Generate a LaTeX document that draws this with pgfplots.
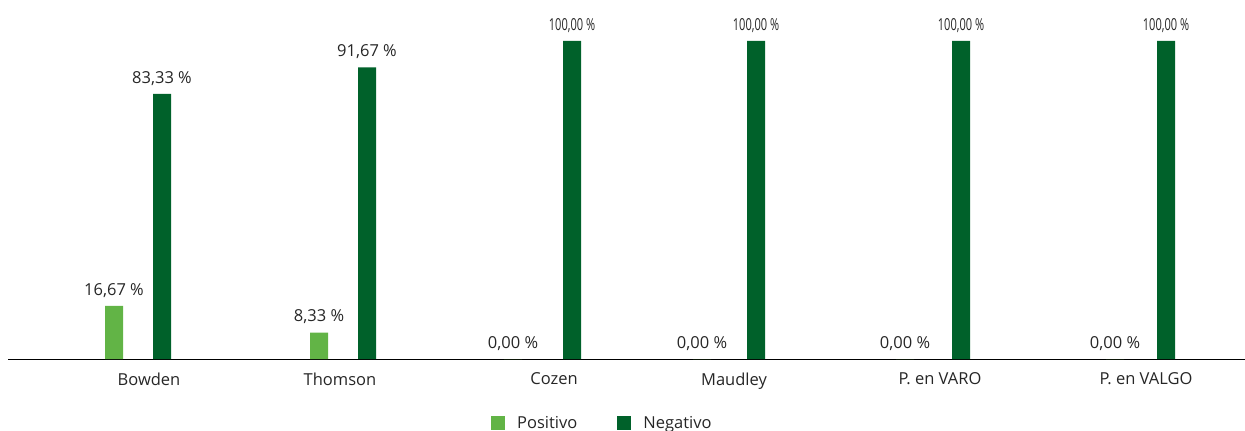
\documentclass[border=0pt]{standalone}
\usepackage{fontspec}
\setmainfont{Open Sans}
\usepackage{pgfplots}
\pgfplotsset{compat=1.18}
\definecolor{pos}{HTML}{62B446}
\definecolor{neg}{HTML}{00612A}
\definecolor{txt}{HTML}{262626}
\begin{document}
\fontsize{16.5}{19}\selectfont
\begin{tikzpicture}
\begin{axis}[
  at={(0,0)}, anchor=south west,
  scale only axis, width=1245pt, height=431pt,
  xmin=0, xmax=1245, ymin=-22.64, ymax=112.89,
  axis x line=middle, axis y line=none,
  x axis line style={-, black, line width=1pt, shorten <=8pt},
  xtick={149,340,554,734,940,1146},
  xticklabels={Bowden,Thomson,Cozen,Maudley,P. en VARO,P. en VALGO},
  major tick length=0pt, xtick style={draw=none},
  xticklabel style={yshift=-8pt, font=\fontsize{16.5}{19}\selectfont, text=txt},
  ytick=\empty,
  ybar, bar width=18pt, bar shift=0pt,
  nodes near coords, point meta=explicit symbolic,
  every node near coord/.append style={font=\fontsize{16.5}{19}\selectfont, text=txt, yshift=3pt},
  clip=false,
  legend columns=2,
  legend style={draw=none, fill=none, at={(axis description cs:0.3944,0.0348)}, anchor=north west,
    inner sep=0pt, font=\fontsize{16.5}{19}\selectfont, text=txt,
    nodes={inner sep=0pt},
    /tikz/every odd column/.append style={column sep=12pt},
    /tikz/every even column/.append style={column sep=40pt}},
  legend image code/.code={\path[#1, draw=none] (0pt,-7pt) rectangle (14pt,7pt);},
]
\addplot[fill=pos, draw=none] coordinates {
  (114,16.67) [16,67 \%]
  (319,8.33) [8,33 \%]
  (513,0) [0,00 \%]
  (702,0) [0,00 \%]
  (905,0) [0,00 \%]
  (1115,0) [0,00 \%]
};
\addplot[fill=neg, draw=none] coordinates {
  (162,83.33) [83,33 \%]
  (367,91.67) [91,67 \%]
};
\addplot[fill=neg, draw=none, forget plot,
  every node near coord/.append style={xscale=0.67, transform shape}] coordinates {
  (572,100) [100,00 \%]
  (756,100) [100,00 \%]
  (961,100) [100,00 \%]
  (1166,100) [100,00 \%]
};
\legend{Positivo, Negativo}
\end{axis}
\pgfresetboundingbox
\path[use as bounding box] (0,0) rectangle (1245pt,431pt);
\end{tikzpicture}
\end{document}
